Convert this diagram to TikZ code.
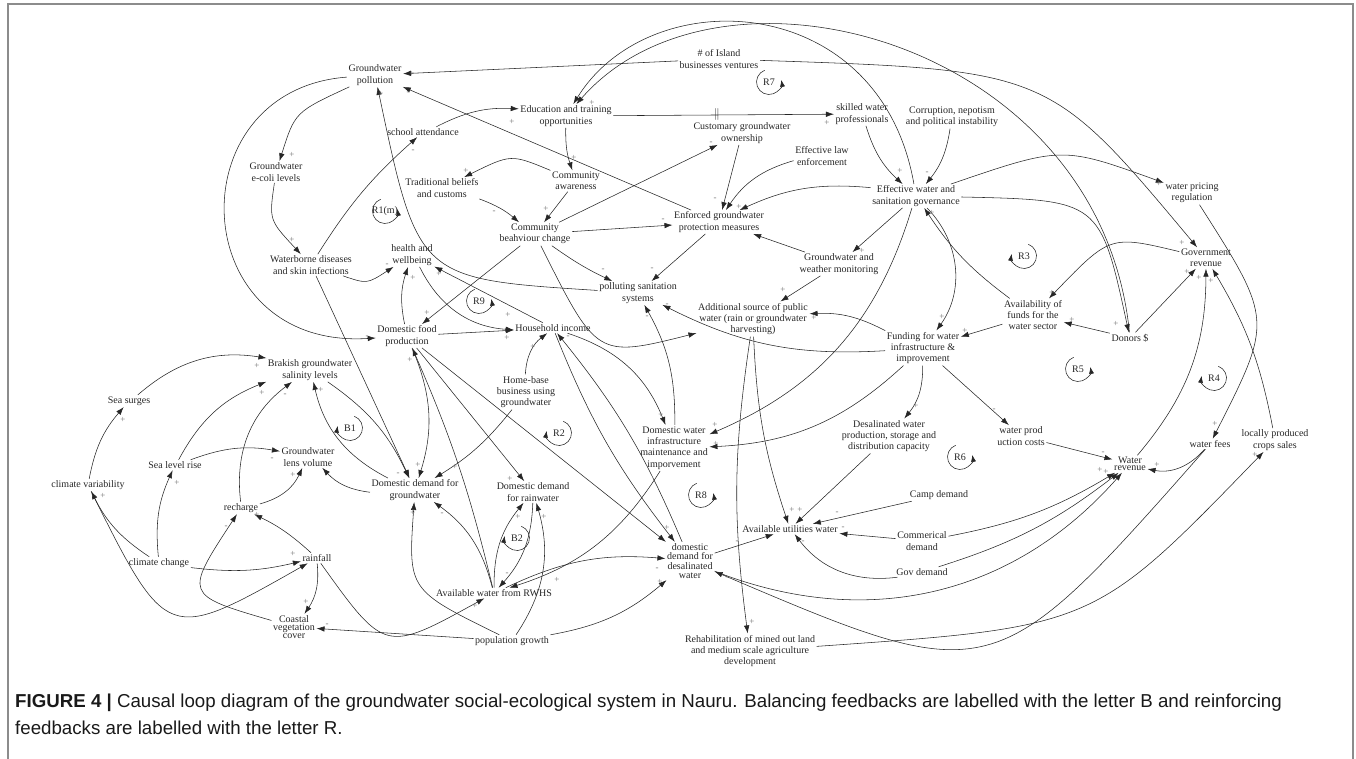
\documentclass[tikz,border=0pt]{standalone}
\usepackage{fontspec}
\setmainfont{Liberation Serif}
\newfontfamily\capfont{Liberation Sans}
\usetikzlibrary{positioning, arrows.meta, calc}

\begin{document}
\begin{tikzpicture}[x=1pt, y=-1pt,
var/.style={align=center, inner sep=1.5pt, font=\fontsize{10}{11.3}\selectfont, text=black!85},
post/.style={->, draw, >={Latex[length=8pt,width=5.5pt]}, line width=0.55pt, color=black!85},
pol/.style={inner sep=0pt, font=\fontsize{9}{9}\selectfont, text=black!55},
loopname/.style={inner sep=1pt, font=\fontsize{10}{11}\selectfont, text=black!85},
looparc/.style={->, >={Latex[length=7pt,width=5pt]}, line width=0.55pt, color=black!85},
delay/.style={inner sep=0pt, font=\fontsize{13}{13}\selectfont, text=black!80}]

\useasboundingbox (0,0) rectangle (1356,758);
\draw[black!45, line width=1.3pt] (8,4) rectangle (1353,775);

\node[var] (GWP) at (375,75) {Groundwater\\pollution};
\node[var] (IB) at (719,59) {\# of Island\\businesses ventures};
\node[var] (EDU) at (566,116) {Education and training\\opportunities};
\node[var] (SA) at (423,132) {school attendance};
\node[var] (ECO) at (276,172) {Groundwater\\e-coli levels};
\node[var] (CGO) at (742,133) {Customary groundwater\\ownership};
\node[var] (SWP) at (862,114) {skilled water\\professionals};
\node[var] (CNP) at (952,117) {Corruption, nepotism\\and political instability};
\node[var] (ELE) at (822,156) {Effective law\\enforcement};
\node[var] (TBC) at (442,188) {Traditional beliefs\\and customs};
\node[var] (CA) at (576,181) {Community\\awareness};
\node[var] (EWG) at (916,196) {Effective water and\\sanitation governance};
\node[var] (WPR) at (1192,193) {water pricing\\regulation};
\node[var] (CBC) at (535,234) {Community\\beahviour change};
\node[var] (EGP) at (719,222) {Enforced groundwater\\protection measures};
\node[var] (WD) at (311,265) {Waterborne diseases\\and skin infections};
\node[var] (HW) at (412,255) {health and\\wellbeing};
\node[var] (GWM) at (839,264) {Groundwater and\\weather monitoring};
\node[var] (GR) at (1206,258) {Government\\revenue};
\node[var] (PSS) at (638,293) {polluting sanitation\\systems};
\node[var] (ASP) at (753,319) {Additional source of public\\water (rain or groundwater\\harvesting)};
\node[var] (AF) at (1033,315) {Availability of\\funds for the\\water sector};
\node[var] (DON) at (1130,338) {Donors \$};
\node[var] (FWI) at (923,348) {Funding for water\\infrastructure \&\\improvement};
\node[var] (DFP) at (407,336) {Domestic food\\production};
\node[var] (HI) at (553,328) {Household income};
\node[var] (BGS) at (310,370) {Brakish groundwater\\salinity levels};
\node[var] (SS) at (129,401) {Sea surges};
\node[var] (HB) at (526,392) {Home-base\\business using\\groundwater};
\node[var] (DWI) at (674,448) {Domestic water\\infrastructure\\maintenance and\\imporvement};
\node[var] (DWP) at (889,436) {Desalinated water\\production, storage and\\distribution capacity};
\node[var] (WPC) at (1021,436) {water prod\\uction costs};
\node[var, font=\fontsize{10}{7.5}\selectfont] (WR) at (1130,464) {Water\\revenue};
\node[var] (WF) at (1210,444) {water fees};
\node[var] (LPC) at (1275,440) {locally produced\\crops sales};
\node[var] (GLV) at (308,457) {Groundwater\\lens volume};
\node[var] (SLR) at (175,465) {Sea level rise};
\node[var] (CV) at (88,485) {climate variability};
\node[var] (DDG) at (415,490) {Domestic demand for\\groundwater};
\node[var] (DDR) at (533,492) {Domestic demand\\for rainwater};
\node[var] (CD) at (939,495) {Camp demand};
\node[var] (RC) at (241,508) {recharge};
\node[var] (AUW) at (790,529) {Available utilities water};
\node[var] (COM) at (922,541) {Commerical\\demand};
\node[var, font=\fontsize{10}{9.3}\selectfont] (DDD) at (690,561) {domestic\\demand for\\desalinated\\water};
\node[var] (CC) at (159,563) {climate change};
\node[var] (RF) at (317,558) {rainfall};
\node[var] (GOV) at (922,572) {Gov demand};
\node[var] (RWH) at (494,593) {Available water from RWHS};
\node[var, font=\fontsize{10}{8}\selectfont] (CVC) at (294,627) {Coastal\\vegetation\\cover};
\node[var] (PG) at (512,641) {population growth};
\node[var] (REH) at (750,651) {Rehabilitation of mined out land\\and medium scale agriculture\\development};

% top part
\path[post] (IB) to (GWP);
\path[post] (EGP) to (GWP);
\path[post] (PSS) .. controls (418,279) .. (GWP);
\path[post] (GWP) .. controls (295,112) .. (ECO);
\path[post] (ECO) .. controls (269,220) .. (WD);
\path[post] (GWP) .. controls (175,90) and (185,350) .. (DFP);
\path[post] (WD) to[bend left=8] (SA);
\path[post] (WD) .. controls (367,284) .. (HW);
\path[post] (WD) to (DDG);
\path[post] (SA) to[bend left=15] (EDU);
\path[post] (EDU) to node[delay, pos=.47]{$\Vert$} (SWP);
\path[post] (EDU) to[bend right=10] (CA);
\path[post] (EWG) .. controls (880,-10) and (650,-20) .. (EDU);
\path[post] (DON) .. controls (1100,40) and (720,-60) .. (EDU);
\path[post] (IB) .. controls (1049,70) .. (GR);
\path[post] (EWG) .. controls (1100,200) .. (DON);
\path[post] (EWG) .. controls (1062,146) .. (WPR);
\path[post] (WPR) .. controls (1273,320) .. (WF);
\path[post] (GR) .. controls (1110,235) .. (AF);
\path[post] (DON) to (AF);
\path[post] (AF) to (FWI);
\path[post] (AF) to[bend left=10] (EWG);
\path[post] (EWG) to[bend left=40] (FWI);
\path[post] (SWP) to[bend right=15] (EWG);
\path[post] (CNP) to[bend left=15] (EWG);
\path[post] (EWG) to[bend right=15] (EGP.30);
\path[post] (ELE) to[bend right=20] (EGP.60);
\path[post] (CGO) to (EGP);
\path[post] (GWM) to (EGP);
\path[post] (EWG) to (GWM);
\path[post] (GWM) to (ASP);

% community
\path[post] (CA) .. controls (511,154) .. (TBC);
\path[post] (CA) to (CBC);
\path[post] (TBC) to[bend left=10] (CBC);
\path[post] (CBC) to (CGO);
\path[post] (CBC) to (EGP);
\path[post] (CBC) to[bend right=5] (PSS);
\path[post] (EGP) to (PSS);
\path[post] (CBC) to (DFP);
\path[post] (CBC) .. controls (597,358) .. (ASP);

% health and income
\path[post] (HW) to[bend right=30] (HI);
\path[post] (HI) to (HW);
\path[post] (DFP) to (HI);
\path[post] (DFP) to[bend left=15] (HW);
\path[post] (HB) to[bend left=25] (HI);
\path[post] (HI) to[bend left=25] (DWI);
\path[post] (DWI) to[bend right=15] (PSS);
\path[post] (FWI) to[bend left=15] (PSS);
\path[post] (FWI) to[bend right=15] (ASP);
\path[post] (FWI) to[bend left=20] (DWI);
\path[post] (EWG) to[bend left=25] (DWI);
\path[post] (ASP) to[bend right=8] (AUW);
\path[post] (ASP) to[bend right=8] (REH);
\path[post] (DDD) to (AUW);

% utilities and revenue
\path[post] (DWP) to (AUW);
\path[post] (CD) to (AUW);
\path[post] (COM) to (AUW);
\path[post] (GOV) to[bend left=30] (AUW);
\path[post] (FWI) to[bend left=20] (DWP);
\path[post] (FWI) to (WPC);
\path[post] (WPC) to (WR);
\path[post] (WF) to[bend left=30] (WR);
\path[post] (COM) to[bend right=10] (WR);
\path[post] (GOV) to[bend right=10] (WR);
\path[post] (DDD) to[bend right=35] (WR);
\path[post] (WF) .. controls (993,690) .. (DDD);
\path[post] (REH) .. controls (1094,627) .. (LPC);
\path[post] (DON) to (GR);
\path[post] (WR) to[bend right=20] (GR);
\path[post] (LPC) to[bend right=10] (GR);

% groundwater and climate
\path[post] (DDG) to[bend left=25] (BGS);
\path[post] (BGS) to[bend left=15] (DDG);
\path[post] (DFP) to[bend left=20] (DDG);
\path[post] (HB) to[bend left=10] (DDG);
\path[post] (RWH) to[bend right=20] (DDG);
\path[post] (PG) .. controls (408,590) .. (DDG);
\path[post] (DDG) to[bend left=20] (GLV);
\path[post] (SLR) to[bend left=15] (GLV);
\path[post] (RC) to[bend right=25] (GLV);
\path[post] (RC) to[bend left=30] (BGS);
\path[post] (SLR) to[bend left=20] (BGS);
\path[post] (SS) to[bend left=25] (BGS);
\path[post] (CV) to[bend left=15] (SS);
\path[post] (CC) to[bend left=15] (CV);
\path[post] (CC) to[bend left=15] (SLR);
\path[post] (CC) to[bend right=10] (RF);
\path[post] (CV) .. controls (167,643) .. (RF);
\path[post] (RF) to[bend right=8] (RC);
\path[post] (RF) to[bend left=20] (CVC);
\path[post] (CVC) .. controls (184,595) .. (RC);
\path[post] (PG) to (CVC);
\path[post] (RF) .. controls (385,653) .. (RWH);

% rainwater and desalinated water
\path[post] (RWH) to[bend left=20] (DDR);
\path[post] (DDR) to[bend left=20] (RWH);
\path[post] (PG) to[bend right=25] (DDR);
\path[post] (DWI) to[bend left=20] (RWH);
\path[post] (RWH) to[bend left=15] (DDD);
\path[post] (PG) to[bend right=15] (DDD);
\path[post] (RWH) to[bend right=5] (DFP);
\path[post] (DFP) to (DDR);
\path[post] (DFP) to (DDD);
\path[post] (HI) to[bend right=8] (DDD);
\path[post] (DDD) to[bend right=8] (HI);

% loops
\foreach \nm/\x/\y [count=\k] in {R1(m)/385/211, R7/769/82, R9/479/301, R8/701/495, R5/1078/369, R6/960/457} {
	\node[loopname] (Lr\k) at (\x,\y) {\nm};
	\draw[looparc] (Lr\k.center) ++(110:12.5pt) arc[start angle=110, end angle=370, radius=12.5pt];
}
\foreach \nm/\x/\y [count=\k] in {B1/350/428, R2/559/433, B2/517/538, R3/1024/256, R4/1214/378} {
	\node[loopname] (Ll\k) at (\x,\y) {\nm};
	\draw[looparc] (Ll\k.center) ++(70:12.5pt) arc[start angle=70, end angle=-190, radius=12.5pt];
}

% polarities
\foreach \x/\y/\s [count=\k] in {412/74/+, 408/93/-, 381/94/+, 292/155/+, 292/240/+, 367/337/-, 413/151/-, 387/265/-, 398/474/-, 512/122/+, 827/123/+, 574/158/+, 592/103/+, 1182/243/+, 1116/324/+, 1159/184/+, 1215/424/+, 1052/293/+, 1072/320/+, 965/331/+, 932/213/+, 942/317/+, 900/171/+, 927/173/-, 739/207/+, 715/199/-, 862/251/+, 783/290/+, 466/171/+, 546/209/+, 494/212/-, 711/143/-, 663/220/-, 603/270/-, 652/269/-, 427/313/+, 508/315/+, 439/274/+, 507/338/+, 413/278/+, 533/347/+, 661/415/+, 647/317/-, 667/305/-, 814/318/+, 716/444/+, 715/425/+, 792/510/+, 752/622/+, 737/542/-, 800/510/+, 837/513/-, 843/528/-, 803/542/-, 916/406/+, 994/410/-, 1103/453/-, 1157/465/+, 1100/470/+, 1106/472/+, 727/578/-, 1255/455/+, 1187/272/+, 1199/278/+, 1211/281/+, 321/390/+, 418/465/+, 455/467/+, 442/514/-, 413/513/+, 272/459/-, 293/475/+, 285/395/-, 262/393/+, 257/366/+, 123/420/+, 103/496/+, 177/483/+, 293/554/+, 257/515/+, 306/602/+, 226/527/-, 327/625/-, 475/606/+, 518/517/+, 507/574/-, 544/517/+, 557/580/+, 657/569/-, 660/582/+, 410/360/+, 510/479/+, 667/528/+, 568/337/-}
	\node[pol] (p\k) at (\x,\y) {\s};

\node[anchor=north west, align=left, inner sep=0pt, font=\capfont\fontsize{18.7}{27}\selectfont, text=black!90] (cap) at (15,694) {\textbf{FIGURE 4 |} Causal loop diagram of the groundwater social-ecological system in Nauru. Balancing feedbacks are labelled with the letter B and reinforcing\\feedbacks are labelled with the letter R.};
\end{tikzpicture}
\end{document}
